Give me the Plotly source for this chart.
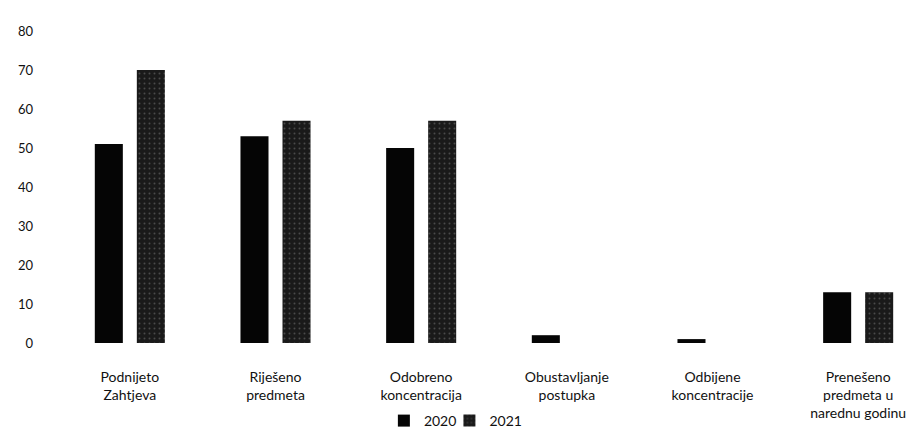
import plotly.graph_objects as go

categories = ["Podnijeto<br>Zahtjeva", "Riješeno<br>predmeta", "Odobreno<br>koncentracija",
              "Obustavljanje<br>postupka", "Odbijene<br>koncentracije",
              "Prenešeno<br>predmeta u<br>narednu godinu"]
values_2020 = [51, 53, 50, 2, 1, 13]
values_2021 = [70, 57, 57, 0, 0, 13]
y_ticks = [0, 10, 20, 30, 40, 50, 60, 70, 80]

font = dict(family="Lato, Liberation Sans, sans-serif", size=14, color="#111111")

fig = go.Figure()
fig.add_trace(go.Bar(name="2020", x=categories, y=values_2020, legend="legend",
                     marker=dict(color="#050505", line=dict(width=0))))
fig.add_trace(go.Bar(name="2021", x=categories, y=values_2021, legend="legend2",
                     marker=dict(color="#1a1a1a", line=dict(width=0),
                                 pattern=dict(shape=".", fgcolor="#7a7a7a", size=5, solidity=0.12))))

leg_common = dict(orientation="h", y=-0.2, yanchor="top", xanchor="left",
                  font=dict(size=14), bgcolor="rgba(0,0,0,0)", borderwidth=0)
fig.update_layout(
    width=923, height=429,
    margin=dict(l=49, r=0, t=23, b=86),
    paper_bgcolor="white", plot_bgcolor="white",
    font=font,
    barmode="group", bargap=0.423, bargroupgap=0.333,
    showlegend=True,
    legend=dict(x=0.374, **leg_common),
    legend2=dict(x=0.449, **leg_common),
)
fig.update_yaxes(range=[0, 80], tickvals=y_ticks, showgrid=False, zeroline=False,
                 showline=False, ticks="", ticklabelstandoff=23, automargin=False,
                 tickfont=dict(size=13, color="#111111"))
fig.update_xaxes(showgrid=False, showline=False, ticks="", ticklabelstandoff=24,
                 automargin=False, tickfont=dict(size=14, color="#111111"))

fig.write_html("out.html")
